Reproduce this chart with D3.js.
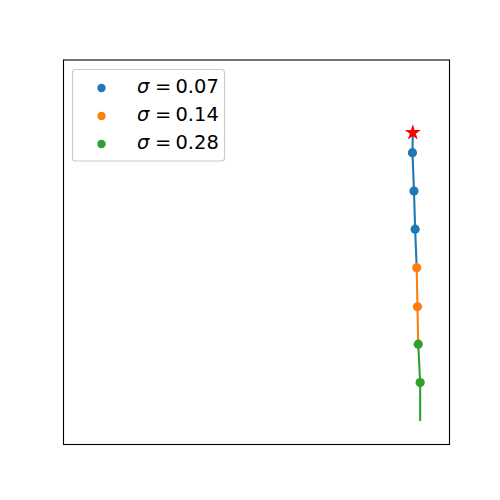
<!DOCTYPE html>
<html><head><meta charset="utf-8">
<script src="https://cdn.jsdelivr.net/npm/d3@7"></script>
<style>html,body{margin:0;padding:0;background:#fff}</style>
</head><body>
<svg id="chart" width="500" height="500"></svg>
<script>
// Data (axes units, no ticks shown)
const seriesLabels = ["0.07", "0.14", "0.28"];
const seriesColors = ["#1f77b4", "#ff7f0e", "#2ca02c"];
const blueX = [0.904, 0.908, 0.911];
const blueY = [0.759, 0.659, 0.560];
const orangeX = [0.915, 0.917];
const orangeY = [0.460, 0.358];
const greenX = [0.919, 0.924];
const greenY = [0.261, 0.161];
const startPoint = [0.905, 0.811];
const endPoint = [0.924, 0.061];

const svg = d3.select("#chart");
const x = d3.scaleLinear().domain([0, 1]).range([63.5, 449.5]);
const y = d3.scaleLinear().domain([0, 1]).range([444.5, 60]);

const zip = (xs, ys) => xs.map((v, i) => [v, ys[i]]);
const blue = zip(blueX, blueY), orange = zip(orangeX, orangeY), green = zip(greenX, greenY);

const line = d3.line().x(d => x(d[0])).y(d => y(d[1]));
const paths = [
  [startPoint, ...blue, orange[0]],
  [...orange, green[0]],
  [...green, endPoint]
];
paths.forEach((p, i) => {
  svg.append("path").attr("d", line(p)).attr("fill", "none")
    .attr("stroke", seriesColors[i]).attr("stroke-width", 2.08);
});
[blue, orange, green].forEach((pts, i) => {
  svg.selectAll(null).data(pts).enter().append("circle")
    .attr("cx", d => x(d[0])).attr("cy", d => y(d[1])).attr("r", 4.6)
    .attr("fill", seriesColors[i]);
});

// star marker
function starPath(cx, cy, R) {
  const r = R * 0.381966, pts = [];
  for (let k = 0; k < 10; k++) {
    const a = -Math.PI / 2 + k * Math.PI / 5;
    const rr = k % 2 === 0 ? R : r;
    pts.push([cx + rr * Math.cos(a), cy + rr * Math.sin(a)]);
  }
  return "M" + pts.map(p => p.join(",")).join("L") + "Z";
}
svg.append("path").attr("d", starPath(x(startPoint[0]), y(startPoint[1]), 8.4))
  .attr("fill", "red");

// frame
svg.append("rect").attr("x", 63.5).attr("y", 60).attr("width", 386).attr("height", 384.5)
  .attr("fill", "none").attr("stroke", "black").attr("stroke-width", 1.1);

// legend
const lg = svg.append("g");
lg.append("rect").attr("x", 72.5).attr("y", 69.5).attr("width", 152).attr("height", 91.5)
  .attr("rx", 3).attr("fill", "white").attr("fill-opacity", 0.8)
  .attr("stroke", "#cccccc").attr("stroke-width", 1.1);
seriesLabels.forEach((lab, i) => {
  const cy = 88 + i * 28;
  lg.append("circle").attr("cx", 101.5).attr("cy", cy).attr("r", 4.2).attr("fill", seriesColors[i]);
  const t = lg.append("text").attr("y", cy + 4.8)
    .attr("font-family", "DejaVu Sans").attr("font-size", 19.44).attr("fill", "black");
  t.append("tspan").attr("x", 137).attr("font-style", "italic").text("σ");
  t.append("tspan").attr("x", 155).text("=");
  t.append("tspan").attr("x", 175.5).text(lab);
});
</script>
</body></html>
